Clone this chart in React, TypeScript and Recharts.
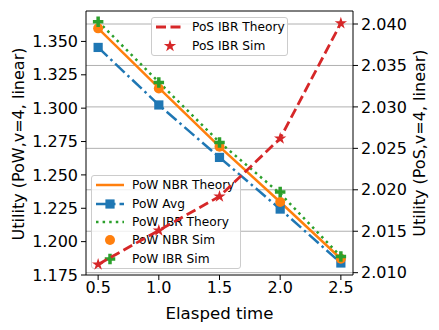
import { ComposedChart, Line, XAxis, YAxis, CartesianGrid, ReferenceLine, Label } from "recharts";

// values
const times = [0.5, 1.0, 1.5, 2.0, 2.5];
const powNbrTheory = [1.3598, 1.3152, 1.2712, 1.2297, 1.1872];
const powAvg = [1.3455, 1.3024, 1.2631, 1.2244, 1.184];
const powIbrTheory = [1.365, 1.3195, 1.2745, 1.236, 1.1888];
const powNbrSim = [1.3598, 1.3148, 1.2711, 1.2297, 1.1872];
const powIbrSim = [1.3648, 1.3193, 1.2743, 1.2372, 1.1889];
const posIbrTheory = [2.011, 2.0151, 2.0192, 2.0262, 2.0401];
const posIbrSim = [2.011, 2.0151, 2.0192, 2.0262, 2.0401];

const xTicks = [0.5, 1.0, 1.5, 2.0, 2.5];
const leftTicks = [1.175, 1.2, 1.225, 1.25, 1.275, 1.3, 1.325, 1.35];
const rightTicks = [2.01, 2.015, 2.02, 2.025, 2.03, 2.035, 2.04];

const data = times.map((t, i) => ({
  t,
  powNbrTheory: powNbrTheory[i],
  powAvg: powAvg[i],
  powIbrTheory: powIbrTheory[i],
  powNbrSim: powNbrSim[i],
  powIbrSim: powIbrSim[i],
  posIbrTheory: posIbrTheory[i],
  posIbrSim: posIbrSim[i],
}));

const W = 439;
const H = 330;
const FONT = "DejaVu Sans";
const BLUE = "#1f77b4";
const ORANGE = "#ff7f0e";
const GREEN = "#2ca02c";
const RED = "#d62728";

const xDomain = [0.4, 2.6];
const leftDomain = [1.175, 1.3728];
const rightDomain = [2.00972, 2.04157];
const margin = { top: 11, right: 0, bottom: 0, left: 0 };
const tickStyle = { fontSize: 16, fill: "#000", fontFamily: FONT };

function starPoints(cx: number, cy: number, r: number) {
  const pts: string[] = [];
  for (let k = 0; k < 10; k++) {
    const rr = k % 2 === 0 ? r : r * 0.382;
    const a = -Math.PI / 2 + (k * Math.PI) / 5;
    pts.push(`${cx + rr * Math.cos(a)},${cy + rr * Math.sin(a)}`);
  }
  return pts.join(" ");
}

function plusPoints(cx: number, cy: number, s: number) {
  const a = s / 2;
  const b = s / 6;
  const p = [
    [-b, -a], [b, -a], [b, -b], [a, -b], [a, b], [b, b],
    [b, a], [-b, a], [-b, b], [-a, b], [-a, -b], [-b, -b],
  ];
  return p.map(([x, y]) => `${cx + x},${cy + y}`).join(" ");
}

const Square = ({ cx, cy, color }: any) => (
  <rect x={cx - 4.6} y={cy - 4.6} width={9.2} height={9.2} fill={color} />
);
const Circle = ({ cx, cy, color }: any) => <circle cx={cx} cy={cy} r={5} fill={color} />;
const Plus = ({ cx, cy, color }: any) => <polygon points={plusPoints(cx, cy, 10.5)} fill={color} />;
const Star = ({ cx, cy, color }: any) => <polygon points={starPoints(cx, cy, 6.5)} fill={color} />;

const dotOf = (Shape: any, color: string) => (props: any) => {
  const { cx, cy, index } = props;
  if (cx == null || cy == null) return <g key={`d${index}`} />;
  return <Shape key={`d${index}`} cx={cx} cy={cy} color={color} />;
};

type Entry = { label: string; kind: "line" | "marker"; color: string; dash?: string; width?: number; Shape?: any };

const upperEntries: Entry[] = [
  { label: "PoS IBR Theory", kind: "line", color: RED, dash: "10 4.5", width: 2.8 },
  { label: "PoS IBR Sim", kind: "marker", color: RED, Shape: Star },
];

const lowerEntries: Entry[] = [
  { label: "PoW NBR Theory", kind: "line", color: ORANGE, width: 2.5 },
  { label: "PoW Avg", kind: "line", color: BLUE, dash: "13 4 2.5 4", width: 2.5, Shape: Square },
  { label: "PoW IBR Theory", kind: "line", color: GREEN, dash: "2.5 4.1", width: 2.5 },
  { label: "PoW NBR Sim", kind: "marker", color: ORANGE, Shape: Circle },
  { label: "PoW IBR Sim", kind: "marker", color: GREEN, Shape: Plus },
];

function LegendBox({ entries, left, top, width, height }: { entries: Entry[]; left: number; top: number; width: number; height: number }) {
  return (
    <div
      style={{
        position: "absolute",
        left,
        top,
        width,
        height,
        boxSizing: "border-box",
        background: "rgba(255,255,255,0.8)",
        border: "1px solid #cccccc",
        borderRadius: 3,
        fontFamily: FONT,
        fontSize: 12.2,
        color: "#000",
      }}
    >
      {entries.map((e) => (
        <div key={e.label} style={{ display: "flex", alignItems: "center", height: 18.4, paddingLeft: 4 }}>
          <svg width={28} height={14} style={{ marginRight: 8, flex: "none" }}>
            {e.kind === "line" && (
              <line x1={0} x2={28} y1={7} y2={7} stroke={e.color} strokeWidth={e.width} strokeDasharray={e.dash} />
            )}
            {e.Shape && <e.Shape cx={14} cy={7} color={e.color} />}
          </svg>
          <span style={{ whiteSpace: "nowrap" }}>{e.label}</span>
        </div>
      ))}
    </div>
  );
}

export default function App() {
  return (
    <div style={{ position: "absolute", left: 0, top: 0, width: W, height: H, background: "#fff" }}>
      <div style={{ position: "absolute", left: 0, top: 0 }}>
        <ComposedChart width={W} height={H} data={data} margin={margin}>
          <CartesianGrid yAxisId="right" horizontal vertical={false} stroke="#b0b0b0" strokeWidth={1} horizontalValues={rightTicks} />
          <XAxis
            dataKey="t"
            type="number"
            domain={xDomain}
            ticks={xTicks}
            allowDataOverflow
            height={55}
            tickFormatter={(v) => v.toFixed(1)}
            tick={tickStyle}
            tickSize={5}
            tickMargin={2}
            stroke="#000"
          >
            <Label
              content={() => (
                <text x={219.5} y={318.5} textAnchor="middle" fontSize={16.6} fontFamily={FONT} fill="#000">
                  Elasped time
                </text>
              )}
            />
          </XAxis>
          <YAxis
            yAxisId="left"
            type="number"
            domain={leftDomain}
            ticks={leftTicks}
            allowDataOverflow
            width={86}
            tickFormatter={(v) => v.toFixed(3)}
            tick={tickStyle}
            tickSize={5}
            tickMargin={3}
            stroke="#000"
          >
            <Label
              content={() => (
                <text x={24} y={144} transform="rotate(-90 24 144)" textAnchor="middle" fontSize={16} fontFamily={FONT} fill="#000">
                  Utility (PoW,v=4, linear)
                </text>
              )}
            />
          </YAxis>
          <YAxis
            yAxisId="right"
            orientation="right"
            type="number"
            domain={rightDomain}
            ticks={rightTicks}
            allowDataOverflow
            width={86}
            tickFormatter={(v) => v.toFixed(3)}
            tick={tickStyle}
            tickSize={5}
            tickMargin={3}
            stroke="#000"
          >
            <Label
              content={() => (
                <text x={425} y={143} transform="rotate(-90 425 143)" textAnchor="middle" fontSize={16} fontFamily={FONT} fill="#000">
                  Utility (PoS,v=4, linear)
                </text>
              )}
            />
          </YAxis>
          <ReferenceLine yAxisId="left" y={leftDomain[1]} stroke="#000" strokeWidth={1} />
          <Line yAxisId="left" dataKey="powNbrTheory" type="linear" stroke={ORANGE} strokeWidth={2.5} dot={false} isAnimationActive={false} />
          <Line
            yAxisId="left"
            dataKey="powAvg"
            type="linear"
            stroke={BLUE}
            strokeWidth={2.5}
            strokeDasharray="13 4 2.5 4"
            dot={dotOf(Square, BLUE)}
            isAnimationActive={false}
          />
          <Line
            yAxisId="left"
            dataKey="powIbrTheory"
            type="linear"
            stroke={GREEN}
            strokeWidth={2.5}
            strokeDasharray="2.5 4.1"
            dot={false}
            isAnimationActive={false}
          />
          <Line yAxisId="left" dataKey="powNbrSim" type="linear" stroke="none" dot={dotOf(Circle, ORANGE)} isAnimationActive={false} />
          <Line yAxisId="left" dataKey="powIbrSim" type="linear" stroke="none" dot={dotOf(Plus, GREEN)} isAnimationActive={false} />
        </ComposedChart>
      </div>
      <LegendBox entries={lowerEntries} left={91} top={175} width={150} height={94} />
      <div style={{ position: "absolute", left: 0, top: 0, pointerEvents: "none" }}>
        <ComposedChart width={W} height={H} data={data} margin={{ top: 11, right: 0, bottom: 0, left: 86 }}>
          <XAxis
            dataKey="t"
            type="number"
            domain={xDomain}
            ticks={xTicks}
            allowDataOverflow
            height={55}
            tick={false}
            axisLine={false}
            tickLine={false}
          />
          <YAxis
            yAxisId="right"
            orientation="right"
            type="number"
            domain={rightDomain}
            allowDataOverflow
            width={86}
            tick={false}
            axisLine={false}
            tickLine={false}
          />
          <Line
            yAxisId="right"
            dataKey="posIbrTheory"
            type="linear"
            stroke={RED}
            strokeWidth={2.8}
            strokeDasharray="10 4.5"
            dot={false}
            isAnimationActive={false}
          />
          <Line yAxisId="right" dataKey="posIbrSim" type="linear" stroke="none" dot={dotOf(Star, RED)} isAnimationActive={false} />
        </ComposedChart>
      </div>
      <LegendBox entries={upperEntries} left={151} top={17} width={137} height={39} />
    </div>
  );
}
